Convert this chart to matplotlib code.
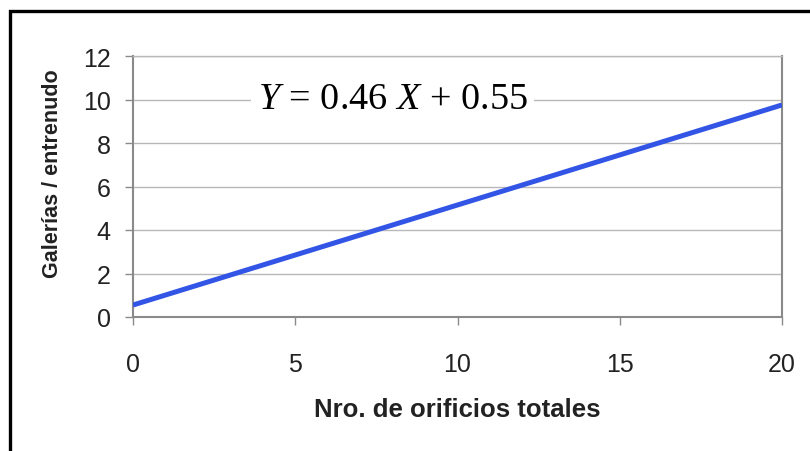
import matplotlib
matplotlib.use("Agg")
import matplotlib.pyplot as plt
from matplotlib.patches import Rectangle

# Data
x_vals = [0, 20]
y_vals = [0.55, 9.75]
x_ticks = [0, 5, 10, 15, 20]
y_ticks = [0, 2, 4, 6, 8, 10, 12]
x_label = "Nro. de orificios totales"
y_label = "Galerías / entrenudo"
equation_parts = ["$Y$", " = 0.46 ", "$X$", " + 0.55"]

plt.rcParams['mathtext.fontset'] = 'custom'
plt.rcParams['mathtext.rm'] = 'Liberation Serif'
plt.rcParams['mathtext.it'] = 'Liberation Serif:italic'

fig = plt.figure(figsize=(8.1, 4.52), dpi=100)
ax = fig.add_axes([133/810, 1-318/452, (782-133)/810, (318-57)/452])

ax.plot(x_vals, y_vals, color='#3355e6', lw=3.6, solid_capstyle='butt', zorder=3)

ax.set_xlim(0, 20)
ax.set_ylim(0, 12)
ax.set_xticks(x_ticks)
ax.set_yticks(y_ticks)
ax.yaxis.grid(True, color='#b8b8b8', lw=1.0)
ax.set_axisbelow(True)
for s in ['left', 'bottom', 'right']:
    ax.spines[s].set_color('#8a8a8a')
    ax.spines[s].set_linewidth(1.5)
ax.spines['top'].set_color('#b8b8b8')
ax.spines['top'].set_linewidth(1.0)
ax.tick_params(axis='both', colors='#8a8a8a', length=6, width=1.0,
               labelcolor='#222222', labelsize=18, direction='out')
ax.tick_params(axis='x', pad=19)
ax.tick_params(axis='y', pad=10)
for t in ax.get_xticklabels() + ax.get_yticklabels():
    t.set_fontfamily('Liberation Sans')

eq = "".join(equation_parts)
ax.text(0.40, 10.05, eq, family='Liberation Serif', fontsize=27.5,
        ha='center', va='center', transform=ax.get_yaxis_transform(),
        bbox=dict(facecolor='white', edgecolor='none', pad=5), zorder=4)

fig.text(457/810, 1-410/452, x_label, ha='center', va='center',
         fontsize=18.5, fontweight='bold', family='Liberation Sans', color='#222222')
fig.text(53/810, 1-174/452, y_label, ha='center', va='center', rotation=90,
         fontsize=15.5, fontweight='bold', family='Liberation Sans', color='#222222')

fig.patches.append(Rectangle((10/810, -0.2), 1.2, 1-12/452+0.2, transform=fig.transFigure,
                             fill=False, edgecolor='black', lw=2.4, figure=fig))

fig.savefig("out.png", dpi=100)
